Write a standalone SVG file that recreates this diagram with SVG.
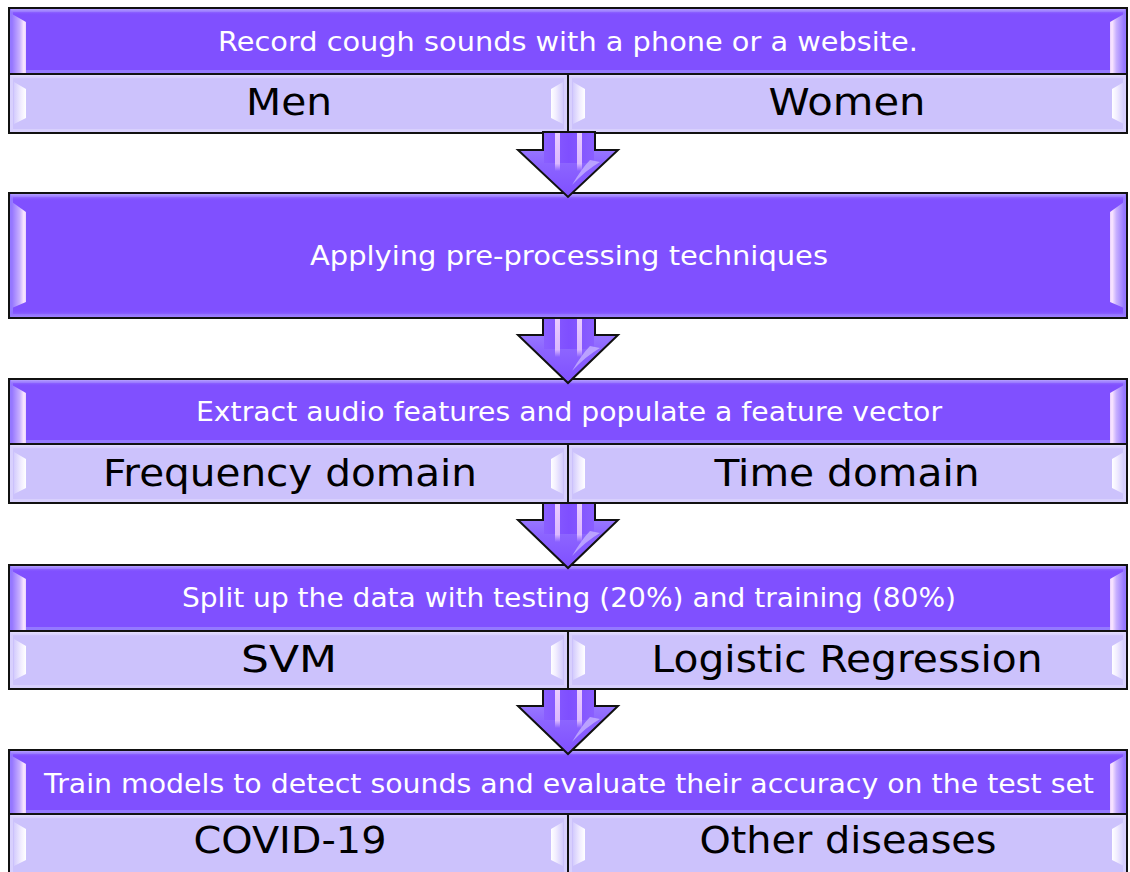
<svg xmlns="http://www.w3.org/2000/svg" width="1130" height="872" viewBox="0 0 1130 872">
<defs>
<linearGradient id="bandTop" x1="0" y1="0" x2="0" y2="1"><stop offset="0" stop-color="#b7a2ff"/><stop offset="1" stop-color="#8050ff" stop-opacity="0"/></linearGradient>
<linearGradient id="bandBot" x1="0" y1="0" x2="0" y2="1"><stop offset="0" stop-color="#8050ff" stop-opacity="0"/><stop offset="1" stop-color="#9f83ff"/></linearGradient>
<linearGradient id="bandTopS" x1="0" y1="0" x2="0" y2="1"><stop offset="0" stop-color="#e6e0ff"/><stop offset="1" stop-color="#ccc2fc" stop-opacity="0"/></linearGradient>
<linearGradient id="bevL" x1="0" y1="0" x2="1" y2="0"><stop offset="0" stop-color="#9677ff"/><stop offset="0.55" stop-color="#c8b0ff"/><stop offset="0.85" stop-color="#fbe6ff"/><stop offset="1" stop-color="#e9d2ff"/></linearGradient>
<linearGradient id="bevR" x1="1" y1="0" x2="0" y2="0"><stop offset="0" stop-color="#9677ff"/><stop offset="0.55" stop-color="#c8b0ff"/><stop offset="0.85" stop-color="#fbe6ff"/><stop offset="1" stop-color="#e9d2ff"/></linearGradient>
<linearGradient id="bevLs" x1="0" y1="0" x2="1" y2="0"><stop offset="0" stop-color="#d4ccfd"/><stop offset="0.6" stop-color="#f2eeff"/><stop offset="1" stop-color="#ffffff"/></linearGradient>
<linearGradient id="bevRs" x1="1" y1="0" x2="0" y2="0"><stop offset="0" stop-color="#d4ccfd"/><stop offset="0.6" stop-color="#f2eeff"/><stop offset="1" stop-color="#ffffff"/></linearGradient>
<linearGradient id="shaft" x1="0" y1="0" x2="1" y2="0"><stop offset="0" stop-color="#8a5fff"/><stop offset="0.5" stop-color="#7f4fff"/><stop offset="1" stop-color="#8a5fff"/></linearGradient>
<linearGradient id="head" x1="0" y1="0" x2="0" y2="1"><stop offset="0" stop-color="#a58cff"/><stop offset="0.5" stop-color="#8c64ff"/><stop offset="1" stop-color="#7f4fff"/></linearGradient>
<linearGradient id="strip" x1="0" y1="0" x2="0" y2="1"><stop offset="0" stop-color="#f5d9ff" stop-opacity="0.9"/><stop offset="0.8" stop-color="#f0d0ff" stop-opacity="0.8"/><stop offset="1" stop-color="#f0d0ff" stop-opacity="0"/></linearGradient>
</defs>
<style>
.hdr{fill:#8050ff;}
.hdrIn{fill:none;stroke:#9478ff;stroke-width:3;}
.sub{fill:#ccc2fc;}
.subIn{fill:none;stroke:#d8d0fd;stroke-width:3;}
.outline{fill:none;stroke:#111;stroke-width:2;}
.htxt{font-family:"DejaVu Sans","Liberation Sans",sans-serif;font-size:26px;fill:#ffffff;text-anchor:middle;}
.stxt{font-family:"DejaVu Sans","Liberation Sans",sans-serif;font-size:38px;fill:#000000;text-anchor:middle;}
.arrowBody{stroke:#111;stroke-width:2;stroke-linejoin:miter;}
.hl{fill:url(#strip);}
</style>

<!-- Box 1 -->
<g id="box1">
<g id="box1-header">
<rect class="hdr" x="9" y="8" width="1118" height="66"/>
<rect class="hdrIn" x="11.5" y="10.5" width="1113" height="61"/>
<rect x="11" y="9" width="1114" height="6" fill="url(#bandTop)"/>
<polygon points="12,14 26,22 26,73 12,73" fill="url(#bevL)"/>
<polygon points="1124,14 1110,22 1110,73 1124,73" fill="url(#bevR)"/>
<rect class="outline" x="9" y="8" width="1118" height="66"/>
<text class="htxt" x="568" y="51" textLength="700" lengthAdjust="spacingAndGlyphs">Record cough sounds with a phone or a website.</text>
</g>
<g id="box1-men">
<rect class="sub" x="9" y="74" width="559" height="59"/>
<rect class="subIn" x="11.5" y="76.5" width="554" height="54"/>
<rect x="11" y="75" width="555" height="5" fill="url(#bandTopS)"/>
<polygon points="14,82 26,89 26,118 14,124" fill="url(#bevLs)"/>
<polygon points="563,82 551,89 551,118 563,124" fill="url(#bevRs)"/>
<rect class="outline" x="9" y="74" width="559" height="59"/>
<text class="stxt" x="289" y="115" textLength="86" lengthAdjust="spacingAndGlyphs">Men</text>
</g>
<g id="box1-women">
<rect class="sub" x="568" y="74" width="559" height="59"/>
<rect class="subIn" x="570.5" y="76.5" width="554" height="54"/>
<rect x="570" y="75" width="555" height="5" fill="url(#bandTopS)"/>
<polygon points="573,82 585,89 585,118 573,124" fill="url(#bevLs)"/>
<polygon points="1124,82 1112,89 1112,118 1124,124" fill="url(#bevRs)"/>
<rect class="outline" x="568" y="74" width="559" height="59"/>
<text class="stxt" x="847" y="115" textLength="157" lengthAdjust="spacingAndGlyphs">Women</text>
</g>
</g>

<!-- Box 2 -->
<g id="box2">
<rect class="hdr" x="9" y="193" width="1118" height="125"/>
<rect class="hdrIn" x="11.5" y="195.5" width="1113" height="120"/>
<rect x="11" y="194" width="1114" height="7" fill="url(#bandTop)"/>
<rect x="11" y="310" width="1114" height="7" fill="url(#bandBot)"/>
<polygon points="12,202 26,212 26,302 12,308" fill="url(#bevL)"/>
<polygon points="1124,202 1110,212 1110,302 1124,308" fill="url(#bevR)"/>
<rect class="outline" x="9" y="193" width="1118" height="125"/>
<text class="htxt" x="569" y="265" textLength="518" lengthAdjust="spacingAndGlyphs">Applying pre-processing techniques</text>
</g>

<!-- Box 3 -->
<g id="box3">
<g id="box3-header">
<rect class="hdr" x="9" y="379" width="1118" height="65"/>
<rect class="hdrIn" x="11.5" y="381.5" width="1113" height="60"/>
<rect x="11" y="380" width="1114" height="6" fill="url(#bandTop)"/>
<polygon points="12,385 26,393 26,443 12,443" fill="url(#bevL)"/>
<polygon points="1124,385 1110,393 1110,443 1124,443" fill="url(#bevR)"/>
<rect class="outline" x="9" y="379" width="1118" height="65"/>
<text class="htxt" x="569" y="421" textLength="746" lengthAdjust="spacingAndGlyphs">Extract audio features and populate a feature vector</text>
</g>
<g id="box3-freq">
<rect class="sub" x="9" y="444" width="559" height="59"/>
<rect class="subIn" x="11.5" y="446.5" width="554" height="54"/>
<rect x="11" y="445" width="555" height="5" fill="url(#bandTopS)"/>
<polygon points="14,452 26,459 26,488 14,494" fill="url(#bevLs)"/>
<polygon points="563,452 551,459 551,488 563,494" fill="url(#bevRs)"/>
<rect class="outline" x="9" y="444" width="559" height="59"/>
<text class="stxt" x="290" y="486" textLength="374" lengthAdjust="spacingAndGlyphs">Frequency domain</text>
</g>
<g id="box3-time">
<rect class="sub" x="568" y="444" width="559" height="59"/>
<rect class="subIn" x="570.5" y="446.5" width="554" height="54"/>
<rect x="570" y="445" width="555" height="5" fill="url(#bandTopS)"/>
<polygon points="573,452 585,459 585,488 573,494" fill="url(#bevLs)"/>
<polygon points="1124,452 1112,459 1112,488 1124,494" fill="url(#bevRs)"/>
<rect class="outline" x="568" y="444" width="559" height="59"/>
<text class="stxt" x="847" y="486" textLength="265" lengthAdjust="spacingAndGlyphs">Time domain</text>
</g>
</g>

<!-- Box 4 -->
<g id="box4">
<g id="box4-header">
<rect class="hdr" x="9" y="565" width="1118" height="66"/>
<rect class="hdrIn" x="11.5" y="567.5" width="1113" height="61"/>
<rect x="11" y="566" width="1114" height="6" fill="url(#bandTop)"/>
<polygon points="12,571 26,579 26,630 12,630" fill="url(#bevL)"/>
<polygon points="1124,571 1110,579 1110,630 1124,630" fill="url(#bevR)"/>
<rect class="outline" x="9" y="565" width="1118" height="66"/>
<text class="htxt" x="569" y="607" textLength="774" lengthAdjust="spacingAndGlyphs">Split up the data with testing (20%) and training (80%)</text>
</g>
<g id="box4-svm">
<rect class="sub" x="9" y="631" width="559" height="58"/>
<rect class="subIn" x="11.5" y="633.5" width="554" height="53"/>
<rect x="11" y="632" width="555" height="5" fill="url(#bandTopS)"/>
<polygon points="14,639 26,646 26,674 14,680" fill="url(#bevLs)"/>
<polygon points="563,639 551,646 551,674 563,680" fill="url(#bevRs)"/>
<rect class="outline" x="9" y="631" width="559" height="58"/>
<text class="stxt" x="289" y="672" textLength="96" lengthAdjust="spacingAndGlyphs">SVM</text>
</g>
<g id="box4-lr">
<rect class="sub" x="568" y="631" width="559" height="58"/>
<rect class="subIn" x="570.5" y="633.5" width="554" height="53"/>
<rect x="570" y="632" width="555" height="5" fill="url(#bandTopS)"/>
<polygon points="573,639 585,646 585,674 573,680" fill="url(#bevLs)"/>
<polygon points="1124,639 1112,646 1112,674 1124,680" fill="url(#bevRs)"/>
<rect class="outline" x="568" y="631" width="559" height="58"/>
<text class="stxt" x="847" y="672" textLength="391" lengthAdjust="spacingAndGlyphs">Logistic Regression</text>
</g>
</g>

<!-- Box 5 -->
<g id="box5">
<g id="box5-header">
<rect class="hdr" x="9" y="750" width="1118" height="64"/>
<rect class="hdrIn" x="11.5" y="752.5" width="1113" height="59"/>
<rect x="11" y="751" width="1114" height="6" fill="url(#bandTop)"/>
<polygon points="12,756 26,764 26,813 12,813" fill="url(#bevL)"/>
<polygon points="1124,756 1110,764 1110,813 1124,813" fill="url(#bevR)"/>
<rect class="outline" x="9" y="750" width="1118" height="64"/>
<text class="htxt" x="569" y="793" font-size="28" textLength="1050" lengthAdjust="spacingAndGlyphs">Train models to detect sounds and evaluate their accuracy on the test set</text>
</g>
<g id="box5-covid">
<rect class="sub" x="9" y="814" width="559" height="62"/>
<rect class="subIn" x="11.5" y="816.5" width="554" height="57"/>
<rect x="11" y="815" width="555" height="5" fill="url(#bandTopS)"/>
<polygon points="14,822 26,829 26,860 14,866" fill="url(#bevLs)"/>
<polygon points="563,822 551,829 551,860 563,866" fill="url(#bevRs)"/>
<rect class="outline" x="9" y="814" width="559" height="62"/>
<text class="stxt" x="290" y="853" textLength="193" lengthAdjust="spacingAndGlyphs">COVID-19</text>
</g>
<g id="box5-other">
<rect class="sub" x="568" y="814" width="559" height="62"/>
<rect class="subIn" x="570.5" y="816.5" width="554" height="57"/>
<rect x="570" y="815" width="555" height="5" fill="url(#bandTopS)"/>
<polygon points="573,822 585,829 585,860 573,866" fill="url(#bevLs)"/>
<polygon points="1124,822 1112,829 1112,860 1124,866" fill="url(#bevRs)"/>
<rect class="outline" x="568" y="814" width="559" height="62"/>
<text class="stxt" x="848" y="853" textLength="297" lengthAdjust="spacingAndGlyphs">Other diseases</text>
</g>
</g>

<!-- Connectors -->
<g id="connectors">
<g id="arrow1">
<path class="arrowBody" d="M543,132 L595,132 L595,150 L618,150 L568,197 L518,150 L543,150 Z" fill="url(#head)"/>
<rect x="544" y="133" width="50" height="30" fill="url(#shaft)"/>
<rect class="hl" x="555" y="133" width="5" height="38"/>
<rect class="hl" x="577" y="133" width="5" height="38"/>
<path d="M590,160 Q582,168 572,185 Q586,170 600,162 Z" fill="#c6b2ff" opacity="0.8"/>
</g>
<g id="arrow2">
<path class="arrowBody" d="M543,318 L595,318 L595,335 L618,335 L568,383 L518,335 L543,335 Z" fill="url(#head)"/>
<rect x="544" y="319" width="50" height="30" fill="url(#shaft)"/>
<rect class="hl" x="555" y="319" width="5" height="38"/>
<rect class="hl" x="577" y="319" width="5" height="38"/>
<path d="M590,346 Q582,354 572,371 Q586,356 600,348 Z" fill="#c6b2ff" opacity="0.8"/>
</g>
<g id="arrow3">
<path class="arrowBody" d="M543,503 L595,503 L595,520 L618,520 L568,568 L518,520 L543,520 Z" fill="url(#head)"/>
<rect x="544" y="504" width="50" height="30" fill="url(#shaft)"/>
<rect class="hl" x="555" y="504" width="5" height="38"/>
<rect class="hl" x="577" y="504" width="5" height="38"/>
<path d="M590,531 Q582,539 572,556 Q586,541 600,533 Z" fill="#c6b2ff" opacity="0.8"/>
</g>
<g id="arrow4">
<path class="arrowBody" d="M543,689 L595,689 L595,706 L618,706 L568,754 L518,706 L543,706 Z" fill="url(#head)"/>
<rect x="544" y="690" width="50" height="30" fill="url(#shaft)"/>
<rect class="hl" x="555" y="690" width="5" height="38"/>
<rect class="hl" x="577" y="690" width="5" height="38"/>
<path d="M590,717 Q582,725 572,742 Q586,727 600,719 Z" fill="#c6b2ff" opacity="0.8"/>
</g>
</g>
</svg>
